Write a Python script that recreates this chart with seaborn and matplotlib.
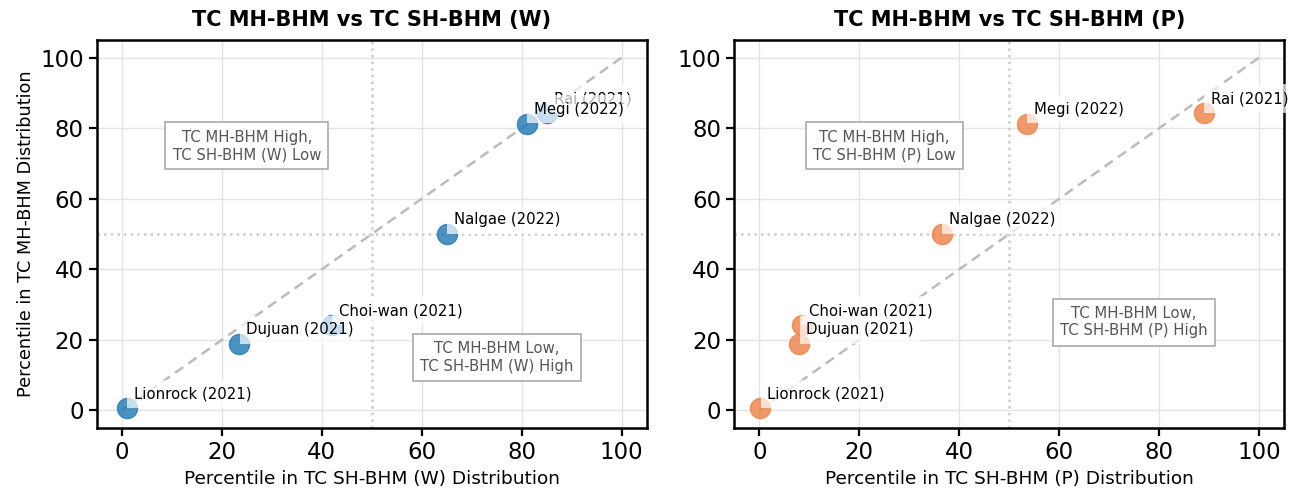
import matplotlib
matplotlib.use("Agg")
import matplotlib.pyplot as plt
import seaborn as sns
import pandas as pd

# Typhoon events, ordered by MH-BHM percentile (high to low)
storms = ["Rai (2021)", "Megi (2022)", "Nalgae (2022)", "Choi-wan (2021)", "Dujuan (2021)", "Lionrock (2021)"]
mh_pct = [84.3, 81.3, 50.0, 24.2, 18.7, 0.6]
sh_w_pct = [85.0, 81.0, 65.0, 42.0, 23.5, 1.0]
sh_p_pct = [89.0, 53.5, 36.5, 8.5, 8.0, 0.2]

panels = [
    ("W", sh_w_pct, "#1f77b4", 15),
    ("P", sh_p_pct, "#ee8045", 25),
]

sns.set_theme(style="ticks")
plt.rcParams["font.family"] = ["DejaVu Sans"]
plt.rcParams.update({"text.color": "black", "axes.labelcolor": "black",
                     "xtick.color": "black", "ytick.color": "black"})

fig, axes = plt.subplots(1, 2, figsize=(13.01, 4.96), dpi=100)
fig.subplots_adjust(left=97 / 1301, right=1284 / 1301, top=1 - 40 / 496,
                    bottom=1 - 428 / 496, wspace=0.16)

for ax, (tag, sh_vals, color, low_y) in zip(axes, panels):
    df = pd.DataFrame({"storm": storms, "sh": sh_vals, "mh": mh_pct})
    ax.grid(True, color="#dddddd", linewidth=1.0, alpha=0.8, zorder=0)
    ax.set_axisbelow(True)
    ax.plot([0, 100], [0, 100], ls=(0, (4, 2.5)), color="#bbbbbb", lw=1.8, zorder=1)
    ax.axvline(50, ls=":", color="#cccccc", lw=1.8, zorder=1)
    ax.axhline(50, ls=":", color="#cccccc", lw=1.8, zorder=1)
    sns.scatterplot(data=df, x="sh", y="mh", ax=ax, color=color, s=210,
                    alpha=0.8, edgecolor=color, linewidth=1.0, zorder=2,
                    legend=False)
    for _, row in df.iterrows():
        ax.annotate(row["storm"], (row["sh"], row["mh"]), xytext=(5, 5),
                    textcoords="offset points", ha="left", va="bottom",
                    fontsize=10.7, color="black",
                    bbox=dict(boxstyle="square,pad=0.45", fc="white",
                              ec="none", alpha=0.7))
    box = dict(boxstyle="square,pad=0.5", fc="white", ec="#aaaaaa", lw=1.2)
    ax.text(25, 75, f"TC MH-BHM High,\nTC SH-BHM ({tag}) Low", ha="center",
            va="center", fontsize=10.7, color="#555555", bbox=box)
    ax.text(75, low_y, f"TC MH-BHM Low,\nTC SH-BHM ({tag}) High", ha="center",
            va="center", fontsize=10.7, color="#555555", bbox=box)

    ax.set_xlim(-5, 105)
    ax.set_ylim(-5, 105)
    ax.set_xticks([0, 20, 40, 60, 80, 100])
    ax.set_yticks([0, 20, 40, 60, 80, 100])
    ax.tick_params(labelsize=16.5, length=6, width=1.6)
    for sp in ax.spines.values():
        sp.set_linewidth(1.8)
        sp.set_color("black")
    ax.set_xlabel(f"Percentile in TC SH-BHM ({tag}) Distribution", fontsize=13.3)
    ax.set_title(f"TC MH-BHM vs TC SH-BHM ({tag})", fontsize=15,
                 fontweight="bold", pad=10)

axes[0].set_ylabel("Percentile in TC MH-BHM Distribution", fontsize=12.7)
axes[1].set_ylabel("")

fig.savefig("out.png", dpi=100)
